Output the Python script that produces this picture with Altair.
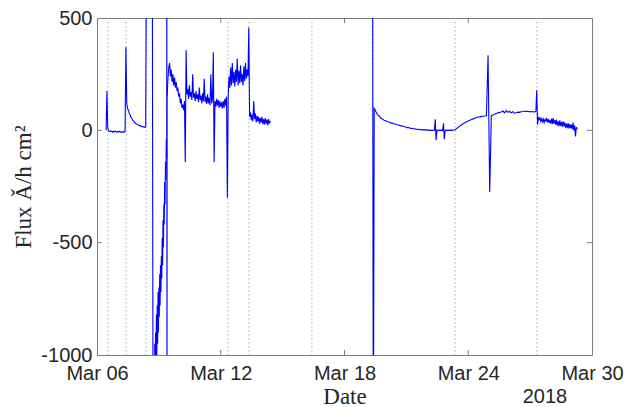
import altair as alt
import pandas as pd

# ---------------- data (day-of-March, flux values) ----------------
# each segment: start day, sampling step (days), values
seg_a_start, seg_a_step = 6.44, 0.04
seg_a_vals = [0, 175, 10, -2, -5, -3, -6, -4, -8, -5, -7, -3, -6, -9, -5, -7, -4,
              -8, -6, -10, -7, -5, -9, -6]

seg_b_start, seg_b_step = 7.36, 0.04167
seg_b_vals = [-6, 370, 118, 96, 90, 74, 68, 56, 53, 44, 42, 35, 33, 28, 28, 24, 24,
              20, 21, 17, 18, 15, 16, 13, 14]

seg_c_start, seg_c_step = 8.36, 0.04
seg_c_vals = [14, 900, 900, 900, 900, 900, 900, 900, 900, -1500]

seg_d_start, seg_d_step = 8.72, 0.02
seg_d_vals = [-1500, -1250, -1050, -1200, -950, -1150, -900, -1050, -820, -1000,
              -780, -950, -720, -900, -700, -830, -640, -780, -600, -720, -560,
              -660, -480, -600, -400, -520, -330, -420, -230, -330, -140, -220,
              -40, -120]

seg_s_start, seg_s_step = 9.38, 0.00667
seg_s_vals = [-120, 900, -1500, 150]

seg_e_start, seg_e_step = 9.40, 0.04
seg_e_vals = [150, 230, 280, 300, 240, 270, 215, 250, 200, 235, 190, 215, 175, 190,
              150, 165, 120, 140, 100, 115, 90, 130, -142, 356, 160, 185, 140, 200,
              150, 170, 135, 250, 145, 165, 130, 175, 140, 160, 125, 190, 135, 155,
              120, 165, 130, 230, 125, 150, 118, 160, 120, 145, 112, 250, 120, 140,
              347, -142, 130, 105, 140, 110, 135, 100, 130, 105, 125, 98, 130, 100,
              140, 110, 150, -300,
              150, 240, 190, 280, 200, 300, 210, 260, 195, 270, 215, 320, 200, 265,
              210, 290, 215, 250, 200, 285, 220, 300, 230, 270, 240, 458,
              60, 80, 45, 70, 40, 130, 50, 75, 35, 65, 40, 60, 30, 55, 35, 60, 28,
              50, 25, 55, 30, 48, 22, 50, 30, 42]

seg_h1_start, seg_h1_step = 19.36, 0.04
seg_h1_vals = [900, -1500, 100]

seg_h2_start, seg_h2_step = 19.44, 0.08
seg_h2_vals = [100, 84, 70, 64, 54, 51, 45, 43, 38, 37, 33, 32, 28, 28, 24, 24, 20,
               20, 16, 16, 12, 12, 8, 9, 6, 7, 4, 5, 2, 4, 1, 3, 0, 2, -1, 1, 0]

seg_h2b_start, seg_h2b_step = 22.32, 0.04
seg_h2b_vals = [0, 0, 49, -44, 1, 0, 1, 0, 1, 0, 1, 0, 31, -40, 0, 1, 0, 1, 0, 1,
                0, 1, 0, 1, 1]

seg_h3_start, seg_h3_step = 23.28, 0.08
seg_h3_vals = [1, 3, 8, 14, 20, 25, 30, 34, 38, 42, 45, 48, 51, 54, 57, 59, 60, 62,
               63, 64, 66, 334, -275, 66, 68, 72, 75, 78, 80, 82, 86, 78, 88, 80, 85,
               78, 83, 76, 78, 81, 80, 83, 84, 86, 84, 85, 83, 84, 83, 82, 84]

seg_h4_start, seg_h4_step = 27.28, 0.04
seg_h4_vals = [84, 178, 25, 60, 48, 55, 40, 52, 38, 50, 35, 48, 42, 55, 36, 50, 33,
               46, 30, 52, 28, 55, 30, 45, 25, 48, 22, 40, 18, 45, 20, 38, 15, 40,
               18, 35, 12, 30, 10, 32, 8, 28, 10, 25, 5, 35, 0, 22, -27, 15, 5]

marker_days = [6.53, 7.41, 8.38, 12.35, 13.37, 16.42, 19.38, 23.36, 27.33]

x_tick_days = [6, 12, 18, 24, 30]
y_tick_vals = [-1000, -500, 0, 500]
inner_x_ticks = [12, 18, 24]
inner_y_ticks = [-500, 0]

# ---------------- helpers ----------------
BASE = pd.Timestamp("2018-03-01")


def ts(day):
    return (BASE + pd.Timedelta(days=day - 1)).strftime("%Y-%m-%dT%H:%M:%S")


segments = [
    (seg_a_start, seg_a_step, seg_a_vals),
    (seg_b_start, seg_b_step, seg_b_vals),
    (seg_c_start, seg_c_step, seg_c_vals),
    (seg_d_start, seg_d_step, seg_d_vals),
    (seg_s_start, seg_s_step, seg_s_vals),
    (seg_e_start, seg_e_step, seg_e_vals),
    (seg_h1_start, seg_h1_step, seg_h1_vals),
    (seg_h2_start, seg_h2_step, seg_h2_vals),
    (seg_h2b_start, seg_h2b_step, seg_h2b_vals),
    (seg_h3_start, seg_h3_step, seg_h3_vals),
    (seg_h4_start, seg_h4_step, seg_h4_vals),
]

rows = []
for k, (start, step, vals) in enumerate(segments):
    for i, v in enumerate(vals):
        rows.append({"t": ts(start + i * step), "flux": v, "seg": k})
df = pd.DataFrame(rows)

df_mark = pd.DataFrame({"t": [ts(d) for d in marker_days]})
df_xt = pd.DataFrame({"t": [ts(d) for d in inner_x_ticks]})
df_yt = pd.DataFrame({"v": inner_y_ticks})

W, H = 495, 337
FRAME = "#7a7a7a"
TXT = "#262626"

xscale = alt.Scale(domain=[ts(6), ts(30)])
yscale = alt.Scale(domain=[-1000, 500], nice=False)

x_axis = alt.Axis(
    values=[alt.DateTime(year=2018, month=3, date=d) for d in x_tick_days],
    format="%b %d", ticks=False, domain=False, grid=False,
    labelFont="Liberation Sans", labelFontSize=20, labelColor=TXT,
    labelPadding=8, labelFlush=False,
    title="Date", titleFont="Liberation Serif", titleFontSize=23,
    titleFontWeight="normal", titleColor=TXT, titlePadding=2)
y_axis = alt.Axis(
    values=y_tick_vals, ticks=False, domain=False, grid=False,
    labelExpr="'' + datum.value",
    labelFont="Liberation Sans", labelFontSize=20, labelColor=TXT,
    labelPadding=5, labelFlush=False,
    title="Flux Ǎ/h cm²", titleFont="Liberation Serif", titleFontSize=23,
    titleFontWeight="normal", titleColor=TXT, titlePadding=5)

markers = alt.Chart(df_mark).mark_rule(
    color="#8fb3dc", strokeDash=[1.5, 2.5], strokeWidth=1
).encode(x=alt.X("t:T", scale=xscale, axis=x_axis))

line = alt.Chart(df).mark_line(
    color="#0000ff", strokeWidth=1.1, clip=True
).encode(
    x=alt.X("t:T", scale=xscale, axis=x_axis),
    y=alt.Y("flux:Q", scale=yscale, axis=y_axis),
    detail="seg:N",
    order=alt.Order("t:T"),
)

xt_bottom = alt.Chart(df_xt).mark_rule(color=FRAME, strokeWidth=1).encode(
    x=alt.X("t:T", scale=xscale), y=alt.value(H), y2=alt.value(H - 5))
xt_top = alt.Chart(df_xt).mark_rule(color=FRAME, strokeWidth=1).encode(
    x=alt.X("t:T", scale=xscale), y=alt.value(0), y2=alt.value(5))
yt_left = alt.Chart(df_yt).mark_rule(color=FRAME, strokeWidth=1).encode(
    y=alt.Y("v:Q", scale=yscale), x=alt.value(0), x2=alt.value(5))
yt_right = alt.Chart(df_yt).mark_rule(color=FRAME, strokeWidth=1).encode(
    y=alt.Y("v:Q", scale=yscale), x=alt.value(W), x2=alt.value(W - 5))

year_txt = alt.Chart(pd.DataFrame({"t": [ts(27.72)], "label": ["2018"]})).mark_text(
    font="Liberation Sans", fontSize=20, color=TXT, baseline="middle",
    align="center", clip=False
).encode(x=alt.X("t:T", scale=xscale), y=alt.value(379), text="label:N")

chart = alt.layer(
    markers, line, xt_bottom, xt_top, yt_left, yt_right, year_txt
).properties(
    width=W, height=H,
    autosize=alt.AutoSizeParams(type="none"),
    padding={"left": 97, "top": 18, "right": 33, "bottom": 52},
    background="white",
).configure_view(
    stroke=FRAME, strokeWidth=1
)

chart.save("out.html", embed_options={"renderer": "svg", "actions": False})
